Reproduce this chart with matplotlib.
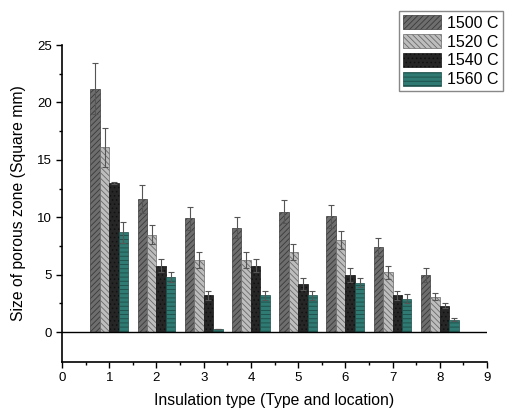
import numpy as np
import matplotlib.pyplot as plt

plt.rcParams['font.family'] = ['Liberation Sans', 'DejaVu Sans']
plt.rcParams['hatch.linewidth'] = 0.6

groups = [1, 2, 3, 4, 5, 6, 7, 8]
temps = ['1500 C', '1520 C', '1540 C', '1560 C']

s1500 = [21.2, 11.6, 9.9, 9.1, 10.5, 10.1, 7.4, 5.0]
s1520 = [16.1, 8.5, 6.3, 6.3, 7.0, 8.0, 5.2, 3.1]
s1540 = [13.0, 5.8, 3.2, 5.8, 4.2, 5.0, 3.2, 2.3]
s1560 = [8.7, 4.8, 0.3, 3.2, 3.2, 4.3, 2.9, 1.1]

e1500 = [2.2, 1.2, 1.0, 0.9, 1.0, 1.0, 0.8, 0.6]
e1520 = [1.7, 0.8, 0.7, 0.7, 0.7, 0.8, 0.6, 0.3]
e1540 = [0.1, 0.6, 0.4, 0.6, 0.5, 0.6, 0.4, 0.2]
e1560 = [0.9, 0.4, 0.0, 0.4, 0.4, 0.4, 0.4, 0.1]

values = [s1500, s1520, s1540, s1560]
errors = [e1500, e1520, e1540, e1560]
colors = ['#6e6e6e', '#bdbdbd', '#262626', '#2f7a72']
hatches = ['//////', '\\\\\\\\\\\\', '....', '----']
edges = ['#3a3a3a', '#6a6a6a', '#111111', '#1c4d48']

fig = plt.figure(figsize=(5.05, 4.13), dpi=100)
ax = fig.add_axes([0.1228, 0.1235, 0.8416, 0.7675])

x = np.array(groups)
w = 0.2
for i in range(4):
    pos = x - 0.3 + i * w
    ax.bar(pos, values[i], width=w, color=colors[i], hatch=hatches[i],
           edgecolor=edges[i], linewidth=0.5, label=temps[i])
    ax.errorbar(pos, values[i], yerr=errors[i], fmt='none', ecolor='#555555',
                elinewidth=0.8, capsize=2.5, capthick=0.8)
ax.axhline(0, color='black', linewidth=1)

ax.set_xlim(0, 9)
ax.set_ylim(-2.6, 25)
ax.set_xticks(range(0, 10))
ax.set_xticks(np.arange(0.5, 9, 1), minor=True)
ax.set_yticks([0, 5, 10, 15, 20, 25])
ax.set_yticks(np.arange(2.5, 25, 5), minor=True)
ax.tick_params(axis='both', which='major', direction='out', length=4, width=1, labelsize=9.5)
ax.tick_params(axis='both', which='minor', direction='out', length=2.5, width=1)
ax.spines['top'].set_visible(False)
ax.spines['right'].set_visible(False)
ax.spines['left'].set_linewidth(1.2)
ax.spines['bottom'].set_linewidth(1.2)

ax.set_xlabel('Insulation type (Type and location)', fontsize=11.3, labelpad=6)
ax.set_ylabel('Size of porous zone (Square mm)', fontsize=11.3, labelpad=8)

leg = fig.legend(loc='upper right', bbox_to_anchor=(0.996, 0.973), fontsize=11.5,
                 fancybox=False, edgecolor='#888888', handlelength=2.4,
                 handleheight=1.0, handletextpad=0.4, labelspacing=0.2,
                 borderpad=0.25, borderaxespad=0, framealpha=1)
leg.get_frame().set_linewidth(1.0)

fig.savefig('out.png', dpi=100)
